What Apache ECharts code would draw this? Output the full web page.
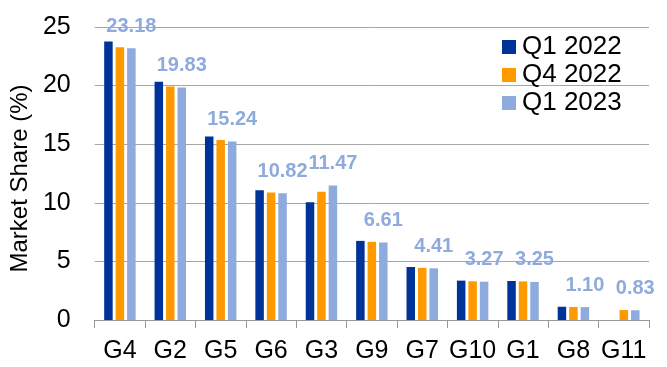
<!DOCTYPE html>
<html>
<head>
<meta charset="utf-8">
<script src="https://cdn.jsdelivr.net/npm/echarts@6/dist/echarts.min.js"></script>
<style>
  html, body { margin: 0; padding: 0; background: #ffffff; }
  #chart { width: 667px; height: 367px; }
</style>
</head>
<body>
<div id="chart"></div>
<script>
// Market share by group, three quarters
const categories = ['G4', 'G2', 'G5', 'G6', 'G3', 'G9', 'G7', 'G10', 'G1', 'G8', 'G11'];
const seriesNames = ['Q1 2022', 'Q4 2022', 'Q1 2023'];
const q1_2022 = [23.76, 20.32, 15.65, 11.08, 10.05, 6.75, 4.52, 3.36, 3.33, 1.13, null];
const q4_2022 = [23.27, 19.92, 15.35, 10.88, 10.95, 6.67, 4.45, 3.30, 3.29, 1.11, 0.85];
const q1_2023 = [23.18, 19.83, 15.24, 10.82, 11.47, 6.61, 4.41, 3.27, 3.25, 1.10, 0.83];
const yTicks = [0, 5, 10, 15, 20, 25];

const colors = ['#003399', '#FF9900', '#8FAADC'];
const FONT = '"Liberation Sans", Arial, sans-serif';

const chart = echarts.init(document.getElementById('chart'), null, { renderer: 'canvas' });

function barSeries(name, data, color, withLabel) {
  return {
    name: name,
    type: 'bar',
    data: data,
    barWidth: 8.5,
    barGap: '35%',
    itemStyle: { color: color },
    label: withLabel ? {
      show: true,
      position: 'top',
      distance: 12,
      color: color,
      fontFamily: FONT,
      fontWeight: 'bold',
      fontSize: 20,
      formatter: p => p.value.toFixed(2)
    } : { show: false },
    emphasis: { disabled: true }
  };
}

chart.setOption({
  animation: false,
  backgroundColor: '#ffffff',
  color: colors,
  textStyle: { fontFamily: FONT },
  grid: { left: 93, right: 18, top: 27, bottom: 47, containLabel: false },
  legend: {
    data: seriesNames,
    orient: 'vertical',
    left: 502,
    top: 34,
    padding: 0,
    itemWidth: 14,
    itemHeight: 14,
    itemGap: 2,
    icon: 'rect',
    textStyle: { fontSize: 26, color: '#000000', fontFamily: FONT, lineHeight: 26, padding: [0, 0, 0, 1] }
  },
  xAxis: {
    type: 'category',
    data: categories,
    axisLine: { show: true, lineStyle: { color: '#999999', width: 1 } },
    axisTick: { show: true, length: 8, lineStyle: { color: '#999999' } },
    axisLabel: { fontSize: 25, color: '#000000', margin: 19, fontFamily: FONT, interval: 0 }
  },
  yAxis: {
    type: 'value',
    min: yTicks[0],
    max: yTicks[yTicks.length - 1],
    interval: yTicks[1] - yTicks[0],
    name: 'Market Share (%)',
    nameLocation: 'middle',
    nameGap: 55,
    nameTextStyle: { fontSize: 24, color: '#000000', fontFamily: FONT, padding: [0, 10, 0, 0] },
    axisLine: { show: false },
    axisTick: { show: false },
    axisLabel: { fontSize: 25, color: '#000000', margin: 24, fontFamily: FONT },
    splitLine: { show: true, lineStyle: { color: '#A6A6A6', width: 1 } }
  },
  series: [
    barSeries(seriesNames[0], q1_2022, colors[0], false),
    barSeries(seriesNames[1], q4_2022, colors[1], false),
    barSeries(seriesNames[2], q1_2023, colors[2], true)
  ]
});
</script>
</body>
</html>
